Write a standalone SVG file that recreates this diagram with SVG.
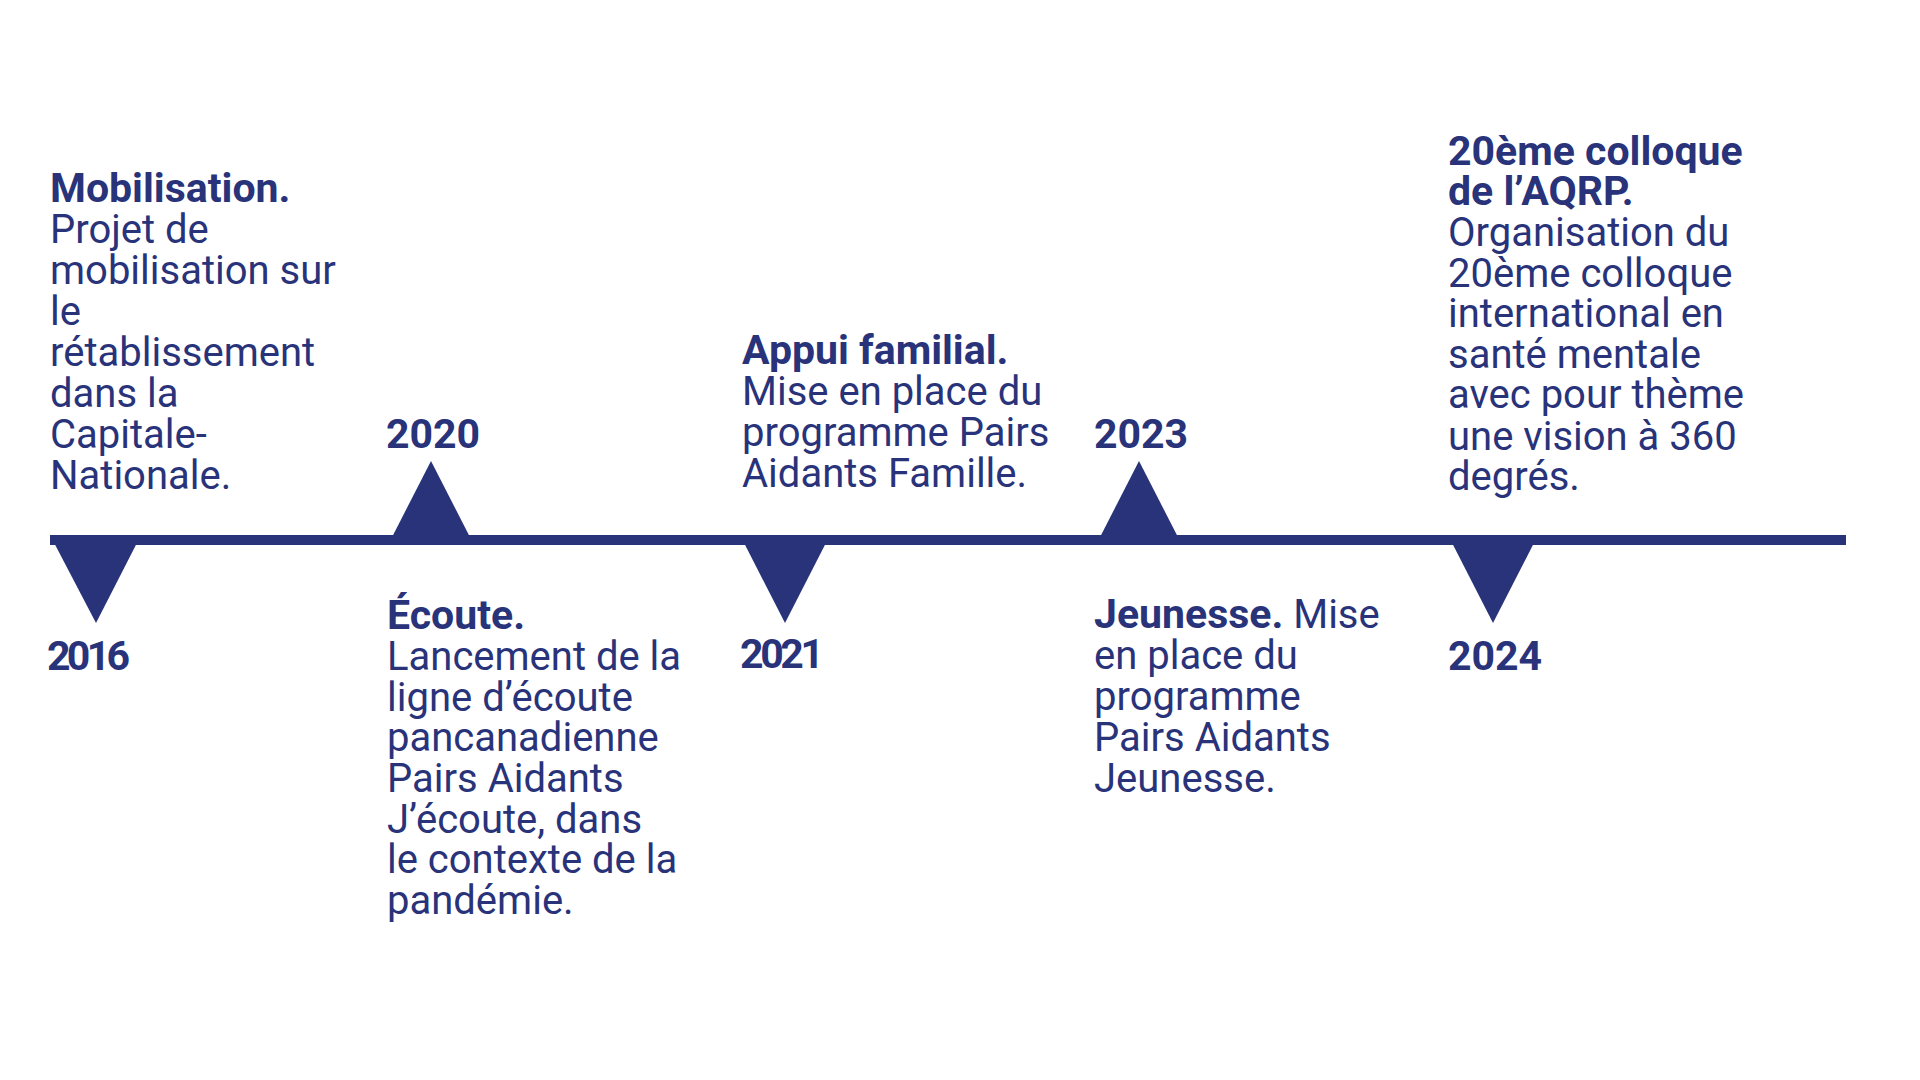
<svg xmlns="http://www.w3.org/2000/svg" width="1920" height="1080" viewBox="0 0 1920 1080">
  <style>
    text { font-family: Roboto, "Noto Sans", "Liberation Sans", sans-serif; fill: #29337A; font-size: 40px; }
    .b { font-weight: 700; font-size: 41px; }
    .r { font-weight: 400; font-size: 40px; }
    .mark { fill: #29337A; }
  </style>
  <rect width="1920" height="1080" fill="#FFFFFF"/>
  <g id="connectors">
    <rect class="mark" x="50" y="535" width="1796" height="10"/>
  </g>
  <g id="node-2016">
    <polygon class="mark" points="50,535 141,535 96,623"/>
    <text class="b" x="47" y="670" textLength="83" lengthAdjust="spacing">2016</text>
    <text x="50" y="202"><tspan class="b">Mobilisation.</tspan></text>
    <text class="r" x="50" y="243">Projet de</text>
    <text class="r" x="50" y="284">mobilisation sur</text>
    <text class="r" x="50" y="325">le</text>
    <text class="r" x="50" y="366">rétablissement</text>
    <text class="r" x="50" y="407">dans la</text>
    <text class="r" x="50" y="448">Capitale-</text>
    <text class="r" x="50" y="489">Nationale.</text>
  </g>
  <g id="node-2020">
    <polygon class="mark" points="388,545 474,545 431,461"/>
    <text class="b" x="386" y="448">2020</text>
    <text class="b" x="387" y="629">Écoute.</text>
    <text class="r" x="387" y="670">Lancement de la</text>
    <text class="r" x="387" y="711">ligne d’écoute</text>
    <text class="r" x="387" y="751">pancanadienne</text>
    <text class="r" x="387" y="792">Pairs Aidants</text>
    <text class="r" x="387" y="833">J’écoute, dans</text>
    <text class="r" x="387" y="873">le contexte de la</text>
    <text class="r" x="387" y="914">pandémie.</text>
  </g>
  <g id="node-2021">
    <polygon class="mark" points="740,535 830,535 785,623"/>
    <text class="b" x="740" y="668" textLength="84" lengthAdjust="spacing">2021</text>
    <text class="b" x="742" y="364">Appui familial.</text>
    <text class="r" x="742" y="405">Mise en place du</text>
    <text class="r" x="742" y="446">programme Pairs</text>
    <text class="r" x="742" y="487">Aidants Famille.</text>
  </g>
  <g id="node-2023">
    <polygon class="mark" points="1096,545 1182,545 1139,461"/>
    <text class="b" x="1094" y="448">2023</text>
    <text x="1094" y="628"><tspan class="b">Jeunesse.</tspan><tspan class="r"> Mise</tspan></text>
    <text class="r" x="1094" y="669">en place du</text>
    <text class="r" x="1094" y="710">programme</text>
    <text class="r" x="1094" y="751">Pairs Aidants</text>
    <text class="r" x="1094" y="792">Jeunesse.</text>
  </g>
  <g id="node-2024">
    <polygon class="mark" points="1448,535 1538,535 1493,623"/>
    <text class="b" x="1448" y="670">2024</text>
    <text class="b" x="1448" y="165">20ème colloque</text>
    <text class="b" x="1448" y="205">de l’AQRP.</text>
    <text class="r" x="1448" y="246">Organisation du</text>
    <text class="r" x="1448" y="287">20ème colloque</text>
    <text class="r" x="1448" y="327">international en</text>
    <text class="r" x="1448" y="368">santé mentale</text>
    <text class="r" x="1448" y="408">avec pour thème</text>
    <text class="r" x="1448" y="450">une vision à 360</text>
    <text class="r" x="1448" y="490">degrés.</text>
  </g>
</svg>
